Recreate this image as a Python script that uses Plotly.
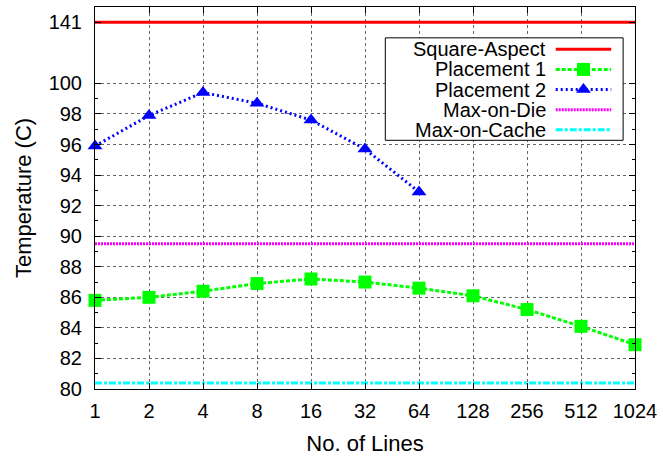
import math
import plotly.graph_objects as go

# Number of cache lines (x axis, plotted on a log2 scale)
lines = [1, 2, 4, 8, 16, 32, 64, 128, 256, 512, 1024]

# Temperatures (C)
placement1 = [85.8, 86.0, 86.4, 86.9, 87.2, 87.0, 86.6, 86.1, 85.2, 84.1, 82.9]
placement2_lines = [1, 2, 4, 8, 16, 32, 64]
placement2 = [95.9, 97.9, 99.4, 98.7, 97.6, 95.7, 92.9]
square_aspect = 141.0
max_on_die = 89.5
max_on_cache = 80.4

# Y axis ticks (broken axis: values above 100 are drawn at BREAK_POS)
y_ticks = [80, 82, 84, 86, 88, 90, 92, 94, 96, 98, 100, 141]
BREAK_LIMIT = 100
BREAK_POS = 104
Y_RANGE = [80, 105]

FONT = "Liberation Sans"


def to_axis(v):
    return v if v <= BREAK_LIMIT else BREAK_POS


def xpos(n):
    return math.log2(n)


x_all = [xpos(n) for n in lines]
x_p2 = [xpos(n) for n in placement2_lines]

fig = go.Figure()

series = [
    dict(name="Square-Aspect", x=[x_all[0], x_all[-1]], y=[to_axis(square_aspect)] * 2,
         color="#ff0000", dash="solid", symbol=None),
    dict(name="Placement 1", x=x_all, y=[to_axis(v) for v in placement1],
         color="#00ff00", dash="4px,2px", symbol="square"),
    dict(name="Placement 2", x=x_p2, y=[to_axis(v) for v in placement2],
         color="#0000ff", dash="2px,3px", symbol="triangle-up"),
    dict(name="Max-on-Die", x=[x_all[0], x_all[-1]], y=[to_axis(max_on_die)] * 2,
         color="#ff00ff", dash="2px,1px", symbol=None),
    dict(name="Max-on-Cache", x=[x_all[0], x_all[-1]], y=[to_axis(max_on_cache)] * 2,
         color="#00ffff", dash="7px,2px,3px,2px", symbol=None),
]

for s in series:
    mode = "lines+markers" if s["symbol"] else "lines"
    fig.add_trace(go.Scatter(
        x=s["x"], y=s["y"], mode=mode, name=s["name"], showlegend=False,
        line=dict(color=s["color"], width=3, dash=s["dash"]),
        marker=dict(symbol=s["symbol"] or "circle", size=13, color=s["color"],
                    line=dict(width=0)),
        cliponaxis=False,
    ))

# Legend drawn in a pixel-like overlay frame (x: 95..640, y: 390..6)
LX0, LX1, LY0, LY1 = 95, 640, 390, 6
bx0, bx1, by0, by1 = 388, 628, 37, 140
row_y0, row_dy = 48.5, 20.25
text_right = 551
sample_x = [560, 616]

# white legend panel (covers the grid) with a black frame
fig.add_trace(go.Scatter(
    x=[bx0, bx1, bx1, bx0, bx0], y=[by0, by0, by1, by1, by0],
    xaxis="x2", yaxis="y2", mode="lines", fill="toself", fillcolor="white",
    line=dict(color="black", width=1), showlegend=False, hoverinfo="skip",
))

for i, s in enumerate(series):
    yy = row_y0 + i * row_dy
    fig.add_trace(go.Scatter(
        x=sample_x, y=[yy, yy], xaxis="x2", yaxis="y2", mode="lines",
        line=dict(color=s["color"], width=3, dash=s["dash"]),
        showlegend=False, hoverinfo="skip",
    ))
    if s["symbol"]:
        fig.add_trace(go.Scatter(
            x=[sum(sample_x) / 2], y=[yy], xaxis="x2", yaxis="y2", mode="markers",
            marker=dict(symbol=s["symbol"], size=13, color=s["color"], line=dict(width=0)),
            showlegend=False, hoverinfo="skip",
        ))
    fig.add_annotation(x=text_right, y=yy, xref="x2", yref="y2", text=s["name"],
                       showarrow=False, xanchor="right", yanchor="middle", align="right",
                       borderpad=0, font=dict(family=FONT, size=20, color="black"))

grid = dict(showgrid=True, gridcolor="#666666", griddash="dot", gridwidth=1)

fig.update_layout(
    width=663, height=457,
    margin=dict(l=95, r=23, t=6, b=67),
    plot_bgcolor="white", paper_bgcolor="white",
    font=dict(family=FONT, size=20, color="black"),
    xaxis=dict(
        range=[x_all[0], x_all[-1]],
        tickmode="array", tickvals=x_all, ticktext=[str(n) for n in lines],
        ticks="inside", ticklen=6, tickcolor="black", ticklabelstandoff=4,
        showline=True, linecolor="black", linewidth=1, mirror="ticks",
        zeroline=False,
        title=dict(text="No. of Lines", font=dict(size=22), standoff=14),
        **grid,
    ),
    yaxis=dict(
        range=Y_RANGE,
        tickmode="array", tickvals=[to_axis(v) for v in y_ticks],
        ticktext=[str(v) for v in y_ticks],
        ticks="inside", ticklen=6, tickcolor="black", ticklabelstandoff=8,
        minor=dict(tickvals=list(range(81, 100, 2)), ticks="inside", ticklen=3,
                   tickcolor="black", showgrid=False),
        showline=True, linecolor="black", linewidth=1, mirror="ticks",
        zeroline=False,
        title=dict(text="Temperature (C)", font=dict(size=22), standoff=10),
        **grid,
    ),
    xaxis2=dict(range=[LX0, LX1], overlaying="x", visible=False, fixedrange=True),
    yaxis2=dict(range=[LY0, LY1], overlaying="y", visible=False, fixedrange=True),
)

fig.write_html("out.html")
